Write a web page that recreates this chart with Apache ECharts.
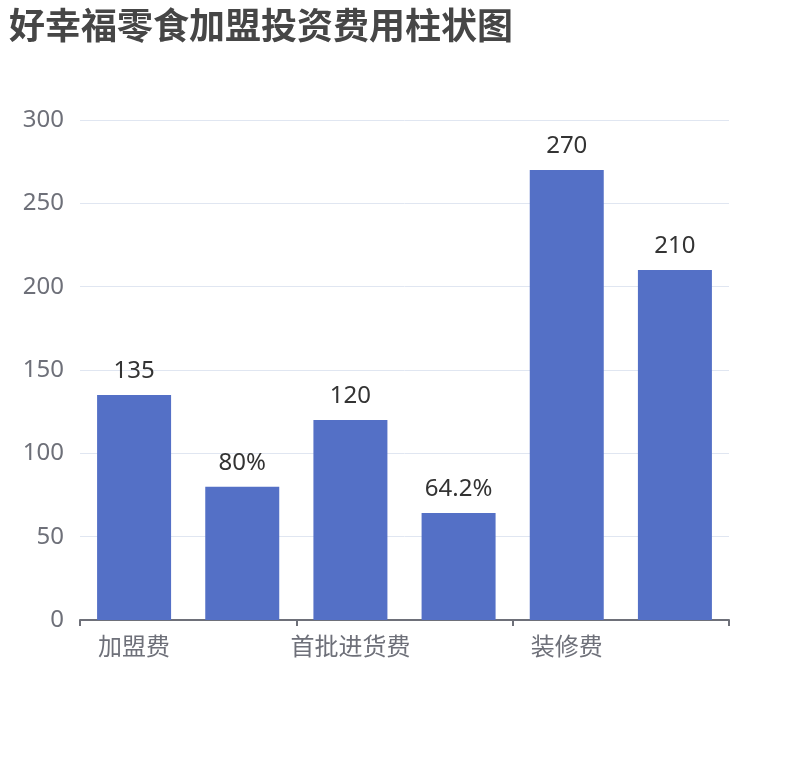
<!DOCTYPE html>
<html><head><meta charset="utf-8">
<script src="https://cdn.jsdelivr.net/npm/echarts@6/dist/echarts.min.js"></script>
<style>html,body{margin:0;padding:0;background:#fff}#c{width:810px;height:760px}</style>
</head><body><div id="c"></div>
<script>
const categories = ['加盟费', '加盟费占比', '首批进货费', '进货费占比', '装修费', '其他费用'];
const values = [135, 80, 120, 64.2, 270, 210];
const units = ['', '%', '', '%', '', ''];
const yTicks = [0, 50, 100, 150, 200, 250, 300];

const FONT = '"Noto Sans", "Noto Sans CJK SC", sans-serif';
const chart = echarts.init(document.getElementById('c'));
chart.setOption({
  textStyle: { fontFamily: FONT },
  title: {
    text: '好幸福零食加盟投资费用柱状图',
    left: 4, top: 2,
    textStyle: { fontSize: 36, fontWeight: 'bold', color: '#464646', fontFamily: 'Noto Sans CJK SC' }
  },
  grid: { left: 80, right: 81, top: 120, bottom: 140, containLabel: false },
  xAxis: {
    type: 'category',
    data: categories,
    axisLabel: { fontSize: 24, color: '#6E7079', interval: 1, margin: 14, fontFamily: 'Noto Sans CJK SC' },
    axisTick: { show: true, interval: 1, length: 6, lineStyle: { color: '#6E7079', width: 2 } },
    axisLine: { lineStyle: { color: '#6E7079', width: 2 } }
  },
  yAxis: {
    type: 'value',
    min: yTicks[0], max: yTicks[yTicks.length - 1], interval: 50,
    axisLabel: { fontSize: 24, color: '#6E7079', margin: 16, fontFamily: FONT },
    splitLine: { lineStyle: { color: '#E0E6F1' } }
  },
  series: [{
    type: 'bar',
    data: values,
    barWidth: 74,
    itemStyle: { color: '#5470C6' },
    label: {
      show: true, position: 'top', fontSize: 24, color: '#333', distance: 12,
      fontFamily: FONT,
      formatter: p => p.value + units[p.dataIndex]
    }
  }]
});
</script></body></html>
